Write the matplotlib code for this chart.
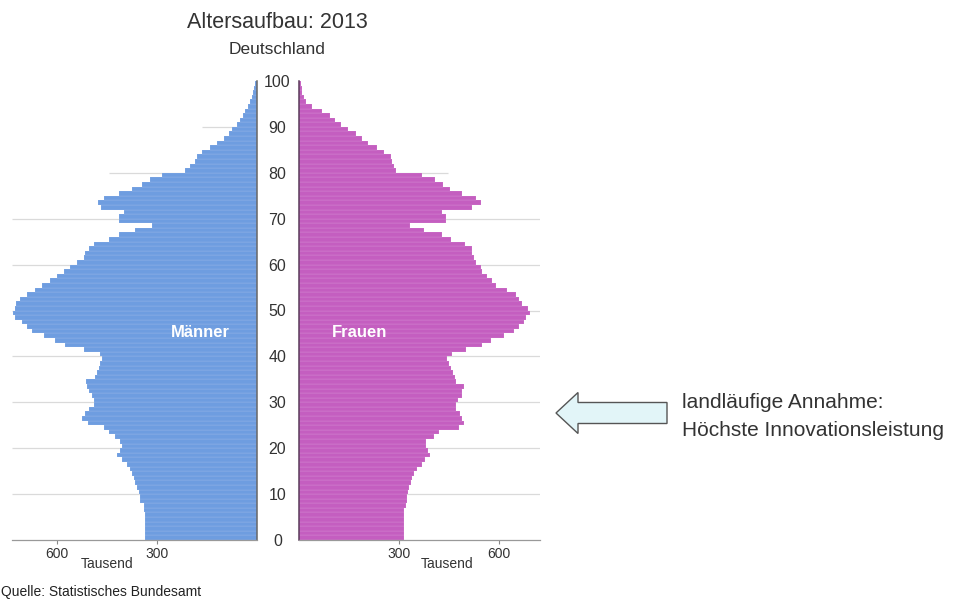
import matplotlib
matplotlib.use("Agg")
import matplotlib.pyplot as plt
from matplotlib.patches import FancyArrow

plt.rcParams['font.family'] = ['Liberation Sans', 'DejaVu Sans']

# ages 0..99 (thousands)
ages = list(range(0, 100))
maenner = [335, 335, 335, 335, 335, 335, 338, 340, 350, 352,
           355, 360, 365, 370, 375, 380, 390, 405, 420, 410,
           405, 410, 425, 445, 460, 508, 525, 515, 505, 490,
           490, 495, 505, 510, 512, 485, 480, 475, 470, 465,
           470, 520, 575, 605, 640, 675, 690, 705, 725, 732,
           725, 722, 710, 690, 665, 645, 620, 600, 580, 560,
           540, 520, 515, 505, 490, 445, 415, 365, 315, 415,
           415, 400, 468, 478, 460, 415, 375, 345, 320, 285,
           215, 200, 185, 180, 165, 140, 120, 100, 85, 75,
           60, 50, 42, 35, 28, 20, 15, 12, 8, 5]
frauen = [315, 315, 315, 315, 315, 315, 315, 320, 325, 325,
          328, 330, 335, 340, 345, 355, 370, 378, 392, 388,
          380, 382, 405, 420, 480, 495, 490, 482, 470, 472,
          478, 488, 490, 495, 472, 468, 462, 455, 450, 445,
          458, 500, 550, 575, 615, 645, 660, 675, 682, 692,
          688, 670, 660, 650, 625, 590, 580, 565, 550, 545,
          530, 525, 518, 518, 498, 455, 428, 375, 332, 440,
          442, 430, 520, 545, 532, 490, 452, 432, 408, 370,
          292, 285, 278, 275, 255, 235, 208, 190, 170, 148,
          125, 108, 92, 70, 40, 20, 15, 10, 8, 5]
age_ticks = list(range(0, 101, 10))
grid_ages = list(range(10, 100, 10))
x_ticks = [300, 600]

c_m = '#6e9de0'
c_f = '#c45ec0'
W, H = 954, 603
fig = plt.figure(figsize=(W / 100, H / 100), dpi=100)

bot = (H - 540) / H
top = (H - 81) / H
axL = fig.add_axes([12 / W, bot, (257 - 12) / W, top - bot])
axR = fig.add_axes([299 / W, bot, (540 - 299) / W, top - bot])

# grid extents (partial lines at 80/90 as in reference)
left_ext = {80: 444, 90: 165}
right_ext = {80: 447, 90: 0}
for g in grid_ages:
    axL.hlines(g, 0, left_ext.get(g, 735), color='#dadada', lw=0.9, zorder=0)
    e = right_ext.get(g, 723)
    if e > 0:
        axR.hlines(g, 0, e, color='#dadada', lw=0.9, zorder=0)

edge = (1, 1, 1, 0.25)
axL.barh(ages, maenner, height=1.0, align='edge', color=c_m, edgecolor=edge, linewidth=0.3, zorder=2)
axR.barh(ages, frauen, height=1.0, align='edge', color=c_f, edgecolor=edge, linewidth=0.3, zorder=2)

axL.set_xlim(735, 0)
axR.set_xlim(0, 723)
for ax in (axL, axR):
    ax.set_ylim(0, 100)
    ax.set_xticks(x_ticks)
    ax.set_xticklabels([str(v) for v in x_ticks])
    ax.tick_params(axis='x', direction='out', length=3, color='#888888',
                   labelsize=10, labelcolor='#333333', pad=2)
    ax.spines['top'].set_visible(False)
    ax.spines['bottom'].set_color('#999999')
    ax.spines['bottom'].set_linewidth(0.9)

axL.spines['left'].set_visible(False)
axL.spines['right'].set_color('#666666')
axL.spines['right'].set_linewidth(1.1)
axL.set_yticks([])

axR.spines['right'].set_visible(False)
axR.spines['left'].set_color('#5a3a5a')
axR.spines['left'].set_linewidth(1.1)
axR.set_yticks(age_ticks)
axR.set_yticklabels([str(a) for a in age_ticks])
axR.tick_params(axis='y', length=0, pad=15.5, labelsize=11.5, labelcolor='#333333')
for lab in axR.get_yticklabels():
    lab.set_horizontalalignment('center')

axL.text(0.388, -0.036, 'Tausend', transform=axL.transAxes, ha='center', va='top',
         fontsize=10, color='#333333')
axR.text(0.614, -0.036, 'Tausend', transform=axR.transAxes, ha='center', va='top',
         fontsize=10, color='#333333')

axL.text(0.77, 0.451, 'Männer', transform=axL.transAxes, ha='center', va='center',
         fontsize=12, fontweight='bold', color='white', zorder=5)
axR.text(0.25, 0.451, 'Frauen', transform=axR.transAxes, ha='center', va='center',
         fontsize=12, fontweight='bold', color='white', zorder=5)

fig.text(277 / W, 1 - 22 / H, 'Altersaufbau: 2013', ha='center', va='center',
         fontsize=15.5, color='#333333')
fig.text(277 / W, 1 - 49 / H, 'Deutschland', ha='center', va='center',
         fontsize=12.5, color='#333333')

# block arrow
arr = FancyArrow(667 / W, 1 - 413 / H, -(667 - 556) / W, 0, width=21 / H,
                 head_width=41 / H, head_length=22 / W, length_includes_head=True,
                 transform=fig.transFigure, facecolor='#e2f5f8', edgecolor='#555555',
                 linewidth=1.0)
fig.add_artist(arr)

fig.text(682 / W, 1 - 403 / H, 'landläufige Annahme:', ha='left', va='center',
         fontsize=15, color='#333333')
fig.text(682 / W, 1 - 430 / H, 'Höchste Innovationsleistung', ha='left', va='center',
         fontsize=15, color='#333333')

fig.text(1 / W, 1 - 592 / H, 'Quelle: Statistisches Bundesamt', ha='left', va='center',
         fontsize=10, color='#222222')

fig.savefig('out.png', dpi=100)
